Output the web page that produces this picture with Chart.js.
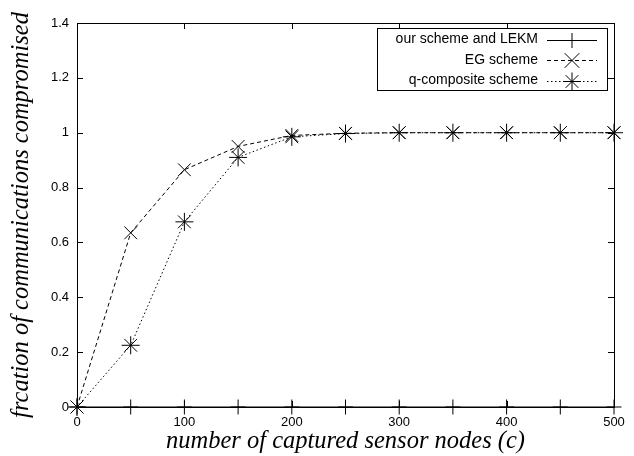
<!DOCTYPE html>
<html>
<head>
<meta charset="utf-8">
<script src="https://cdn.jsdelivr.net/npm/chart.js@4.4.1/dist/chart.umd.min.js"></script>
<style>
html,body{margin:0;padding:0;background:#fff;}
canvas{display:block;}
</style>
</head>
<body>
<canvas id="c" width="634" height="456"></canvas>
<script>
const xValues = [0, 50, 100, 150, 200, 250, 300, 350, 400, 450, 500];
const ourSchemeLEKM = [0, 0, 0, 0, 0, 0, 0, 0, 0, 0, 0];
const egScheme = [0, 0.635, 0.865, 0.95, 0.99, 0.998, 1, 1, 1, 1, 1];
const qComposite = [0, 0.225, 0.675, 0.91, 0.985, 0.997, 1, 1, 1, 1, 1];
const seriesNames = ['our scheme and LEKM', 'EG scheme', 'q-composite scheme'];
const yTickValues = [0, 0.2, 0.4, 0.6, 0.8, 1, 1.2, 1.4];
const xTickValues = [0, 100, 200, 300, 400, 500];
const xTitle = 'number of captured sensor nodes (c)';
const yTitle = 'frcation of communications compromised';

function pts(ys){ return xValues.map((x,i)=>({x:x,y:ys[i]})); }

function drawMarker(ctx, style, x, y, r){
  ctx.beginPath();
  if (style === 'cross' || style === 'star'){
    ctx.moveTo(x - r, y); ctx.lineTo(x + r, y);
    ctx.moveTo(x, y - r); ctx.lineTo(x, y + r);
  }
  if (style === 'crossRot' || style === 'star'){
    const d = r * Math.SQRT1_2 * (style === 'crossRot' ? 1.15 : 1);
    ctx.moveTo(x - d, y - d); ctx.lineTo(x + d, y + d);
    ctx.moveTo(x - d, y + d); ctx.lineTo(x + d, y - d);
  }
  ctx.stroke();
}

const framePlugin = {
  id: 'frame',
  beforeDatasetsDraw(chart){
    const {ctx, chartArea: a, scales} = chart;
    ctx.save();
    ctx.strokeStyle = '#000';
    ctx.lineWidth = 1;
    ctx.strokeRect(a.left + 0.5, a.top + 0.5, a.right - a.left, a.bottom - a.top);
    const tl = 6;
    ctx.beginPath();
    xTickValues.forEach(v => {
      const px = Math.round(scales.x.getPixelForValue(v)) + 0.5;
      ctx.moveTo(px, a.bottom); ctx.lineTo(px, a.bottom - tl);
      ctx.moveTo(px, a.top); ctx.lineTo(px, a.top + tl);
    });
    yTickValues.forEach(v => {
      const py = Math.round(scales.y.getPixelForValue(v)) + 0.5;
      ctx.moveTo(a.left, py); ctx.lineTo(a.left + tl, py);
      ctx.moveTo(a.right, py); ctx.lineTo(a.right - tl, py);
    });
    ctx.stroke();
    ctx.restore();
  }
};

const legendPlugin = {
  id: 'customLegend',
  afterDraw(chart){
    const ctx = chart.ctx;
    const a = chart.chartArea;
    const boxR = a.right - 7, boxL = boxR - 230, boxT = a.top + 5, boxB = boxT + 62;
    ctx.save();
    ctx.fillStyle = '#fff';
    ctx.fillRect(boxL, boxT, boxR - boxL, boxB - boxT);
    ctx.strokeStyle = '#000';
    ctx.lineWidth = 1;
    ctx.strokeRect(boxL + 0.5, boxT + 0.5, boxR - boxL, boxB - boxT);
    ctx.font = '14px "Liberation Sans", Arial, sans-serif';
    ctx.textAlign = 'right';
    ctx.textBaseline = 'middle';
    chart.data.datasets.forEach((ds, i) => {
      const y = boxT + 11.5 + i * 20.5;
      ctx.fillStyle = '#000';
      ctx.fillText(ds.label, boxR - 69, y);
      ctx.setLineDash(ds.borderDash || []);
      ctx.beginPath();
      ctx.moveTo(boxR - 60, Math.round(y) + 0.5);
      ctx.lineTo(boxR - 10, Math.round(y) + 0.5);
      ctx.stroke();
      ctx.setLineDash([]);
      drawMarker(ctx, ds.pointStyle, boxR - 35, Math.round(y) + 0.5, ds.pointRadius);
    });
    ctx.restore();
  }
};

new Chart(document.getElementById('c'), {
  type: 'scatter',
  data: {
    datasets: [
      {label: seriesNames[0], data: pts(ourSchemeLEKM), showLine: true, borderColor: '#000', borderWidth: 1,
       pointStyle: 'cross', pointRadius: 7.5, pointBorderColor: '#000', pointBorderWidth: 1, clip: false},
      {label: seriesNames[1], data: pts(egScheme), showLine: true, borderColor: '#000', borderWidth: 1, borderDash: [4, 3],
       pointStyle: 'crossRot', pointRadius: 9, pointBorderColor: '#000', pointBorderWidth: 1, clip: false},
      {label: seriesNames[2], data: pts(qComposite), showLine: true, borderColor: '#000', borderWidth: 1, borderDash: [1.5, 2.5],
       pointStyle: 'star', pointRadius: 9, pointBorderColor: '#000', pointBorderWidth: 1, clip: false}
    ]
  },
  options: {
    responsive: false,
    animation: false,
    devicePixelRatio: 1,
    layout: {padding: {top: 23, right: 20, bottom: 0, left: 0}},
    plugins: {legend: {display: false}, tooltip: {enabled: false}},
    elements: {line: {tension: 0}},
    scales: {
      x: {
        type: 'linear', min: 0, max: 500,
        afterBuildTicks(s){ s.ticks = xTickValues.map(v => ({value: v})); },
        afterFit(s){ s.height = 49; },
        grid: {display: false, drawTicks: false},
        border: {display: false},
        ticks: {color: '#000', padding: 8, font: {family: '"Liberation Sans", Arial, sans-serif', size: 13}, maxRotation: 0},
        title: {display: true, text: xTitle, color: '#000', padding: {top: 0, bottom: 0},
                font: {family: '"Liberation Serif", "Times New Roman", serif', style: 'italic', size: 24.5}}
      },
      y: {
        type: 'linear', min: 0, max: 1.4,
        afterBuildTicks(s){ s.ticks = yTickValues.map(v => ({value: v})); },
        afterFit(s){ s.width = 77; },
        grid: {display: false, drawTicks: false},
        border: {display: false},
        ticks: {color: '#000', padding: 8, font: {family: '"Liberation Sans", Arial, sans-serif', size: 13},
                callback: v => String(Number(v.toFixed(1)))},
        title: {display: true, text: yTitle, color: '#000', padding: {top: 7, bottom: 0},
                font: {family: '"Liberation Serif", "Times New Roman", serif', style: 'italic', size: 24.5}}
      }
    }
  },
  plugins: [framePlugin, legendPlugin]
});
</script>
</body>
</html>
